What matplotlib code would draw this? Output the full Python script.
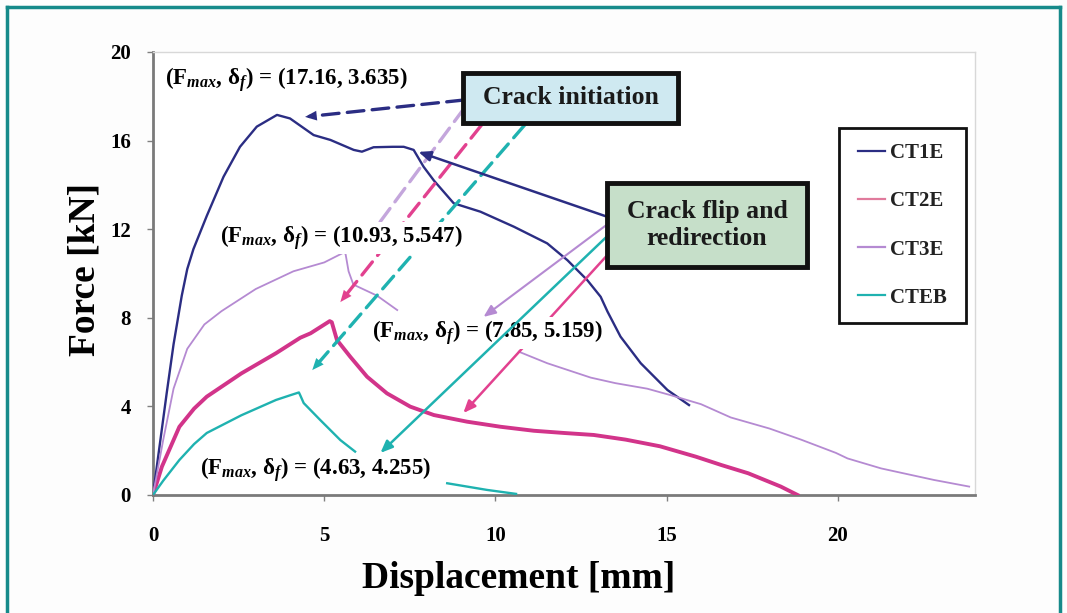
import numpy as np
import matplotlib
matplotlib.use("Agg")
import matplotlib.pyplot as plt
from matplotlib.patches import Rectangle
from matplotlib.lines import Line2D

plt.rcParams['font.family'] = ['Liberation Serif', 'DejaVu Serif']
plt.rcParams['font.weight'] = 'bold'
plt.rcParams['mathtext.fontset'] = 'custom'
plt.rcParams['mathtext.rm'] = 'Liberation Serif:bold'
plt.rcParams['mathtext.it'] = 'Liberation Serif:italic:bold'

# ---------------- data ----------------
series_names = ["CT1E", "CT2E", "CT3E", "CTEB"]

ct1e_x = [0, 0.2, 0.4, 0.6, 0.84, 1.0, 1.18, 1.57, 2.06, 2.54, 3.03, 3.62, 4.0, 4.69, 5.18,
          5.86, 6.1, 6.44, 7.0, 7.32, 7.61, 7.9, 8.2, 8.78, 9.56, 10.54, 11.51, 12.1,
          12.68, 13.07, 13.27, 13.65, 14.24, 15.02, 15.65]
ct1e_y = [0, 2.3, 4.6, 6.8, 9.0, 10.2, 11.1, 12.6, 14.37, 15.72, 16.63, 17.16, 17.0, 16.25,
          16.03, 15.58, 15.5, 15.7, 15.72, 15.72, 15.58, 14.82, 14.2, 13.17, 12.79, 12.11,
          11.36, 10.6, 9.7, 8.95, 8.28, 7.15, 5.95, 4.74, 4.06]

ct2e_x = [0, 0.26, 0.77, 1.2, 1.57, 2.58, 3.59, 4.3, 4.6, 5.16, 5.22, 5.37, 5.76, 6.25, 6.83,
          7.51, 8.2, 9.17, 10.15, 11.12, 12.0, 12.87, 13.8, 14.8, 15.85, 16.6, 17.38,
          18.33, 18.82]
ct2e_y = [0, 1.28, 3.08, 3.9, 4.44, 5.49, 6.4, 7.1, 7.3, 7.85, 7.8, 7.0, 6.24, 5.34, 4.59,
          3.99, 3.61, 3.31, 3.08, 2.9, 2.8, 2.71, 2.5, 2.2, 1.73, 1.35, 0.98, 0.38, 0.0]

ct3e_x = [0, 0.3, 0.6, 1.0, 1.5, 2.0, 2.6, 3.0, 4.1, 5.0, 5.55, 5.62, 5.71, 5.85, 6.54,
          7.13, np.nan, 10.68, 11.51, 12.78, 13.5, 14.43, 15.13, 16.0, 16.87, 18.0,
          18.92, 19.94, 20.28, 21.26, 22.0, 22.8, 23.83]
ct3e_y = [0, 2.5, 4.8, 6.6, 7.7, 8.3, 8.9, 9.3, 10.1, 10.5, 10.93, 10.9, 10.1, 9.5,
          9.0, 8.35, np.nan, 6.47, 5.95, 5.3, 5.05, 4.8, 4.5, 4.1, 3.5, 3.0, 2.5, 1.9,
          1.65, 1.2, 0.95, 0.68, 0.38]

cteb_x = [0, 0.3, 0.77, 1.2, 1.57, 2.58, 3.59, 4.0, 4.26, 4.3, 4.4, 4.88, 5.47, 5.9, np.nan,
          8.59, 9.75, 10.6]
cteb_y = [0, 0.65, 1.58, 2.3, 2.8, 3.6, 4.29, 4.5, 4.63, 4.5, 4.15, 3.39, 2.48, 1.96, np.nan,
          0.53, 0.23, 0.05]

x_ticks = [0, 5, 10, 15, 20]
y_ticks = [0, 4, 8, 12, 16, 20]

peak_labels = ["(17.16, 3.635)", "(10.93, 5.547)", "(7.85, 5.159)", "(4.63, 4.255)"]

# ---------------- style ----------------
c_navy = '#2B2D83'
c_mag = '#D2348A'
c_pur = '#B58AD2'
c_teal = '#1FB2B0'

fig = plt.figure(figsize=(10.67, 6.13), dpi=100, facecolor='#FDFDFD')
ax = fig.add_axes([153/1067, 1-495/613, 822/1067, 443/613])
ax.set_facecolor('white')

ax.plot(ct1e_x, ct1e_y, color=c_navy, lw=1.7, zorder=3)
ax.plot(ct2e_x, ct2e_y, color=c_mag, lw=2.8, zorder=3)
ax.plot(ct3e_x, ct3e_y, color=c_pur, lw=1.3, zorder=3)
ax.plot(cteb_x, cteb_y, color=c_teal, lw=1.7, zorder=3)

ax.set_xlim(0, 24)
ax.set_ylim(0, 20)
ax.set_xticks(x_ticks)
ax.set_yticks(y_ticks)
ax.tick_params(axis='both', direction='out', length=4, width=1, color='#808080',
               labelsize=15)
ax.tick_params(axis='x', pad=18)
ax.tick_params(axis='y', pad=12)
for s in ['left', 'bottom']:
    ax.spines[s].set_color('#7A7A7A')
    ax.spines[s].set_linewidth(2)
for s in ['top', 'right']:
    ax.spines[s].set_color('#D8D8D8')
    ax.spines[s].set_linewidth(1)
for lbl in ax.get_xticklabels() + ax.get_yticklabels():
    lbl.set_fontweight('bold')

ax.set_xlabel("Displacement [mm]", fontsize=27, fontweight='bold')
ax.set_ylabel("Force [kN]", fontsize=27, fontweight='bold')
ax.xaxis.set_label_coords((519-153)/822, -(578-495)/443)
ax.xaxis.label.set_va('center')
ax.yaxis.set_label_coords((85-153)/822, (495-270)/443)
ax.yaxis.label.set_va('center')

# ---------------- annotations ----------------
def ptext(x, y, val, box=True):
    kw = dict(fontsize=16.5, fontweight='bold', ha='left', va='center', zorder=6)
    if box:
        kw['bbox'] = dict(facecolor='white', edgecolor='none', pad=1.0)
    ax.text(x, y, r"(F$_{\mathit{max}}$, δ$_{\mathit{f}}$) = " + val, **kw)

ptext(0.35, 18.74, peak_labels[0], box=False)
ptext(1.96, 11.6, peak_labels[1])
ptext(6.4, 7.31, peak_labels[2])
ptext(1.37, 1.13, peak_labels[3])


def arrow(start, end, color, dashed, lw=1.8, z=5):
    if dashed:
        ax.annotate('', xy=end, xytext=start, zorder=z,
                    arrowprops=dict(arrowstyle='-', color=color, lw=lw + 0.6,
                                    linestyle=(0, (5, 2.5)), shrinkA=0, shrinkB=3))
        ax.annotate('', xy=end, xytext=start, zorder=z,
                    arrowprops=dict(arrowstyle='-|>,head_length=0.6,head_width=0.25',
                                    color=color, lw=0.01, shrinkA=0, shrinkB=0,
                                    mutation_scale=14))
    else:
        ax.annotate('', xy=end, xytext=start, zorder=z,
                    arrowprops=dict(arrowstyle='-|>,head_length=0.6,head_width=0.25',
                                    color=color, lw=lw, shrinkA=0, shrinkB=0,
                                    mutation_scale=12))

# crack initiation (dashed)
arrow((9.06, 17.83), (4.44, 17.07), c_navy, True, z=4)
arrow((9.09, 17.47), (5.96, 10.93), '#C4A6DC', True, z=4)
arrow((9.59, 16.7), (5.47, 8.71), '#E2418F', True, z=4)
arrow((10.85, 16.7), (4.65, 5.64), c_teal, True, z=4)
# crack flip (solid)
arrow((13.36, 12.51), (7.75, 15.49), c_navy, False, lw=1.8, z=4)
arrow((13.36, 12.33), (9.65, 8.04), c_pur, False, lw=1.5, z=4)
arrow((13.27, 10.84), (9.06, 3.70), '#E2418F', False, lw=1.8, z=4)
arrow((13.36, 11.83), (6.64, 1.90), c_teal, False, lw=1.8, z=7)

# ---------------- boxes ----------------
def px_box(x0, y0, x1, y1, face, text, fs):
    fx0, fx1 = x0/1067, x1/1067
    fy0, fy1 = 1-y1/613, 1-y0/613
    sh = Rectangle((fx0+3/1067, fy0-3/613), fx1-fx0, fy1-fy0, transform=fig.transFigure,
                   facecolor='#9A9A9A', edgecolor='none', zorder=8, alpha=0.6)
    r = Rectangle((fx0, fy0), fx1-fx0, fy1-fy0, transform=fig.transFigure,
                  facecolor=face, edgecolor='#111111', lw=3.5, zorder=9)
    fig.patches.extend([sh, r])
    fig.text((fx0+fx1)/2, (fy0+fy1)/2, text, ha='center', va='center', fontsize=fs,
             fontweight='bold', color='#1A1A1A', zorder=10, linespacing=1.25)

px_box(463, 73, 678, 123, '#CFE9F1', "Crack initiation", 18.5)
px_box(607, 183, 807, 267, '#C6DFC9', "Crack flip and\nredirection", 18.5)

# legend frame + entries
lx0, ly0, lx1, ly1 = 839, 128, 966, 323
lr = Rectangle((lx0/1067, 1-ly1/613), (lx1-lx0)/1067, (ly1-ly0)/613,
               transform=fig.transFigure, facecolor='white', edgecolor='#111111',
               lw=2, zorder=9)
fig.patches.append(lr)
handles = [Line2D([], [], color=c, lw=1.6) for c in [c_navy, '#E07A9C', c_pur, c_teal]]
leg = fig.legend(handles, series_names, loc='center',
                 bbox_to_anchor=((lx0+lx1)/2/1067, 1-(ly0+ly1)/2/613),
                 frameon=False, fontsize=15, handlelength=1.3, handletextpad=0.25,
                 labelspacing=1.35)
leg.set_zorder(10)
for t in leg.get_texts():
    t.set_fontweight('bold')
    t.set_color('#222222')

# outer teal frame
for xs, ys in [([7/1067, 7/1067], [0, 1-7/613]),
               ([7/1067, 1060/1067], [1-7/613, 1-7/613]),
               ([1060/1067, 1060/1067], [0, 1-7/613])]:
    fig.add_artist(Line2D(xs, ys, color='#168A8A', lw=2.5, transform=fig.transFigure))

fig.savefig("out.png", dpi=100, facecolor=fig.get_facecolor())
